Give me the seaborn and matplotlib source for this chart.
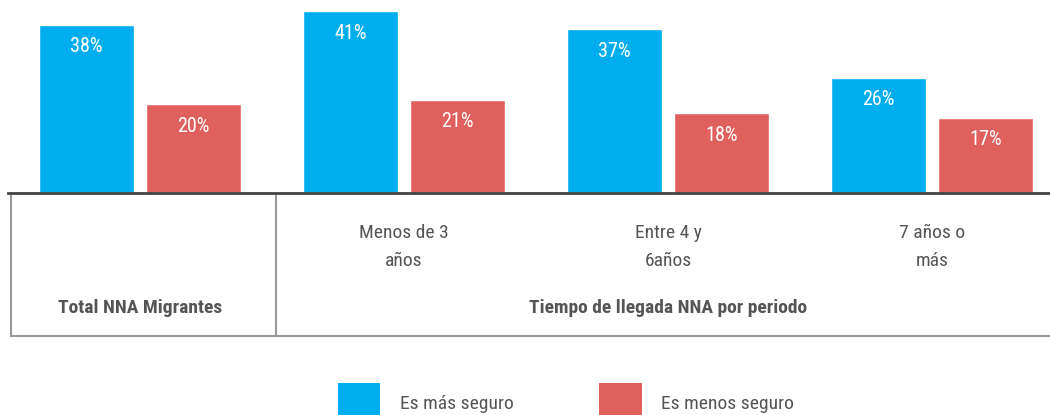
import pandas as pd
import matplotlib
matplotlib.use("Agg")
import matplotlib.pyplot as plt
import matplotlib.transforms as mtransforms
from matplotlib.patches import Patch
import seaborn as sns

# datos
grupos = ["Total", "Menos de 3\naños", "Entre 4 y\n6años", "7 años o\nmás"]
etiquetas_x = ["", "Menos de 3\naños", "Entre 4 y\n6años", "7 años o\nmás"]
series = ["Es más seguro", "Es menos seguro"]
mas_seguro = [38, 41, 37, 26]
menos_seguro = [20, 21, 18, 17]
colores = ["#00AEEF", "#E0605E"]

df = pd.DataFrame({
    "grupo": grupos * 2,
    "serie": [series[0]] * 4 + [series[1]] * 4,
    "valor": mas_seguro + menos_seguro,
})

sns.set_theme(style="white")
plt.rcParams["font.family"] = ["Roboto Condensed", "Liberation Sans Narrow", "Roboto", "DejaVu Sans"]
gris = "#555555"

fig = plt.figure(figsize=(10.5, 4.15), dpi=100)
ax = fig.add_axes([8 / 1050, (415 - 193) / 415, 1056 / 1050, 193 / 415])

sns.barplot(data=df, x="grupo", y="valor", hue="serie", order=grupos,
            hue_order=series, palette=colores, width=0.81, gap=0.11,
            saturation=1, ax=ax, legend=False)

ax.set_xlim(-0.5, 3.5)
ax.set_ylim(0, 193 / 4.43)
ax.set_xlabel("")
ax.set_ylabel("")
ax.set_yticks([])
ax.set_xticks(range(4))
ax.set_xticklabels(etiquetas_x, fontsize=14, color=gris, linespacing=1.75)
ax.tick_params(axis="x", length=0, pad=22)
for s in ["top", "right", "left"]:
    ax.spines[s].set_visible(False)
ax.spines["bottom"].set_color("#444444")
ax.spines["bottom"].set_linewidth(2)

# etiquetas de valor
for cont in ax.containers:
    for barra in cont:
        h = barra.get_height()
        ax.annotate(f"{h:.0f}%", (barra.get_x() + barra.get_width() / 2, h),
                    xytext=(0, -22), textcoords="offset pixels",
                    ha="center", va="center", color="white", fontsize=14.5)

# tabla bajo el eje
trans = mtransforms.blended_transform_factory(ax.transData, ax.transAxes)
y_fondo = (193 - 336) / 193
for xv in [-0.49, 0.515]:
    ax.plot([xv, xv], [0, y_fondo], transform=trans, color="#999999",
            lw=1.5, clip_on=False)
ax.plot([-0.49, 3.5], [y_fondo, y_fondo], transform=trans, color="#999999",
        lw=1.5, clip_on=False)

y_txt = (193 - 308) / 193
ax.text(0, y_txt, "Total NNA Migrantes", transform=trans, ha="center",
        va="center", fontsize=14, fontweight="bold", color=gris)
ax.text(2, y_txt, "Tiempo de llegada NNA por periodo", transform=trans,
        ha="center", va="center", fontsize=14, fontweight="bold", color=gris)

# leyenda
handles = [Patch(facecolor=c, edgecolor="none") for c in colores]
fig.legend(handles, series, loc="upper center", bbox_to_anchor=(0.539, (415 - 383) / 415),
           ncol=2, frameon=False, fontsize=14, handlelength=2.2, handleheight=2.9,
           handletextpad=1.0, columnspacing=4.4, borderpad=0, borderaxespad=0,
           labelcolor=gris)

fig.savefig("out.png", dpi=100)
